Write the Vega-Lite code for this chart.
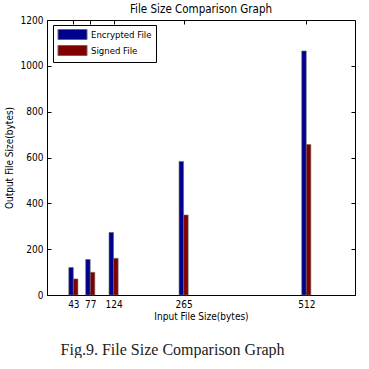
{
  "$schema": "https://vega.github.io/schema/vega-lite/v6.json",
  "padding": {"left": 3, "top": 3, "right": 0, "bottom": 0},
  "background": "white",
  "title": {"text": "Fig.9. File Size Comparison Graph", "orient": "bottom", "font": "Liberation Serif", "fontSize": 16, "fontWeight": "normal", "color": "#222", "anchor": "start", "offset": 20, "dx": 57},
  "config": {
    "view": {"stroke": "black", "strokeWidth": 1},
    "axis": {"labelFont": "DejaVu Sans Condensed, Liberation Sans, sans-serif", "titleFont": "DejaVu Sans Condensed, Liberation Sans, sans-serif", "labelFontSize": 10, "titleFontSize": 10, "titleFontWeight": "normal", "labelColor": "black", "titleColor": "black", "domainColor": "black", "tickColor": "black", "grid": false}
  },
  "datasets": {
    "sizes": [
      {"size": 43, "type": "Encrypted File", "value": 120},
      {"size": 77, "type": "Encrypted File", "value": 155},
      {"size": 124, "type": "Encrypted File", "value": 273},
      {"size": 265, "type": "Encrypted File", "value": 583},
      {"size": 512, "type": "Encrypted File", "value": 1065},
      {"size": 43, "type": "Signed File", "value": 70},
      {"size": 77, "type": "Signed File", "value": 99},
      {"size": 124, "type": "Signed File", "value": 160},
      {"size": 265, "type": "Signed File", "value": 349},
      {"size": 512, "type": "Signed File", "value": 657}
    ]
  },
  "vconcat": [
    {
      "width": 308,
      "height": 275,
      "title": {"text": "File Size Comparison Graph", "font": "DejaVu Sans Condensed, Liberation Sans, sans-serif", "fontSize": 11.5, "fontWeight": "normal", "color": "black", "offset": 0},
      "data": {"name": "sizes"},
      "resolve": {"axis": {"x": "independent", "y": "independent"}},
      "layer": [
        {
          "transform": [{"filter": "datum.type === 'Encrypted File'"}],
          "mark": {"type": "bar", "width": 4.5, "xOffset": -2.3, "stroke": "#666", "strokeWidth": 0.6},
          "encoding": {
            "x": {"field": "size", "type": "quantitative", "scale": {"domain": [0, 600], "nice": false},
              "axis": {"values": [43, 77, 124, 265, 512], "title": "Input File Size(bytes)", "tickSize": -4, "labelPadding": 8, "titlePadding": 2}},
            "y": {"field": "value", "type": "quantitative", "scale": {"domain": [0, 1200], "nice": false},
              "axis": {"values": [0, 200, 400, 600, 800, 1000, 1200], "format": "d", "title": "Output File Size(bytes)", "tickSize": -4, "labelPadding": 8, "titlePadding": 6}},
            "color": {"field": "type", "type": "nominal",
              "scale": {"domain": ["Encrypted File", "Signed File"], "range": ["#00008F", "#800000"]},
              "legend": {"title": null, "orient": "none", "legendX": 6, "legendY": 5, "strokeColor": "black", "fillColor": "white", "padding": 4,
                "symbolType": "M-2.9,-1H2.9V1H-2.9Z", "symbolSize": 100, "symbolOffset": 10, "symbolStrokeColor": "black", "symbolStrokeWidth": 1, "symbolOpacity": 1,
                "labelOffset": 13, "labelFont": "DejaVu Sans Condensed, Liberation Sans, sans-serif", "labelFontSize": 9.5, "labelColor": "black", "rowPadding": 1, "cornerRadius": 0}}
          }
        },
        {
          "transform": [{"filter": "datum.type === 'Signed File'"}],
          "mark": {"type": "bar", "width": 4.5, "xOffset": 2.3, "stroke": "#666", "strokeWidth": 0.6},
          "encoding": {
            "x": {"field": "size", "type": "quantitative",
              "axis": {"orient": "top", "values": [43, 77, 124, 265, 512], "labels": false, "title": null, "tickSize": -4, "domain": false}},
            "y": {"field": "value", "type": "quantitative",
              "axis": {"orient": "right", "values": [0, 200, 400, 600, 800, 1000, 1200], "labels": false, "title": null, "tickSize": -4, "domain": false}},
            "color": {"field": "type", "type": "nominal"}
          }
        }
      ]
    }
  ]
}
